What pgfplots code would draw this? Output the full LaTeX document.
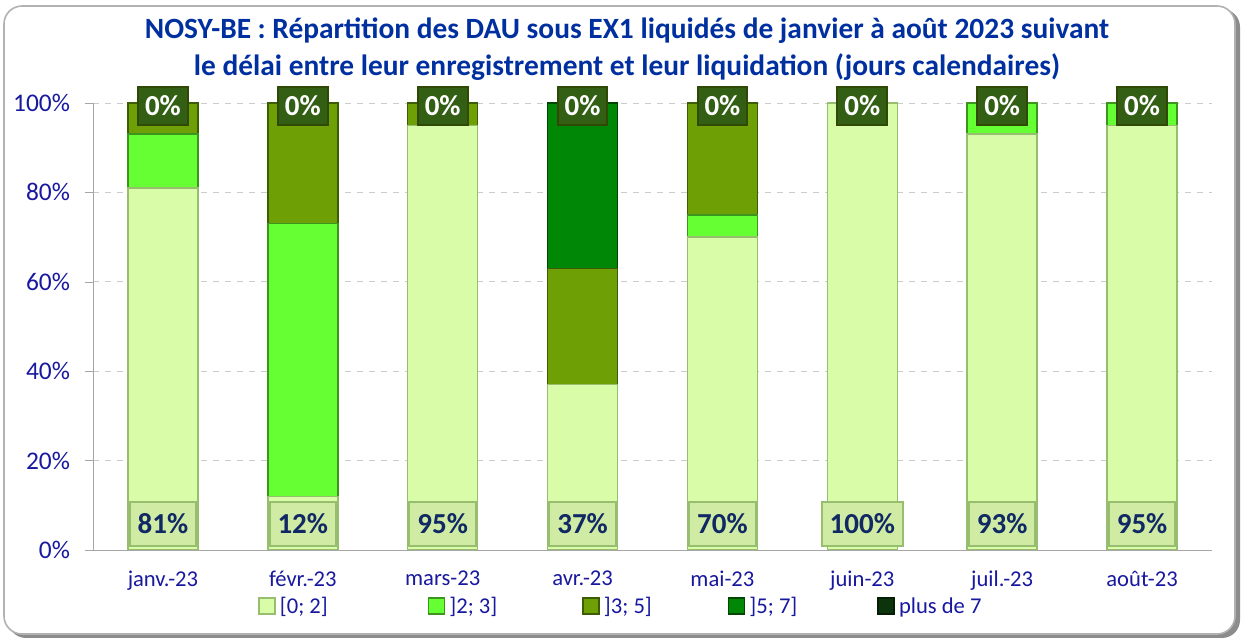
\documentclass[border=0pt]{standalone}
\usepackage{pgfplots}
\usepackage{pgfplotstable}
\pgfplotsset{compat=1.18}
\usepackage{fontspec}
\setmainfont{Carlito}

\definecolor{titleblue}{RGB}{0,48,160}
\definecolor{tickblue}{RGB}{24,24,160}
\definecolor{labnavy}{RGB}{16,40,100}
\definecolor{cA}{RGB}{216,252,168}
\definecolor{cAe}{RGB}{150,190,110}
\definecolor{cB}{RGB}{102,255,51}
\definecolor{cBe}{RGB}{60,150,30}
\definecolor{cC}{RGB}{110,160,6}
\definecolor{cCe}{RGB}{60,92,6}
\definecolor{cD}{RGB}{0,135,5}
\definecolor{cDe}{RGB}{0,70,0}
\definecolor{cE}{RGB}{12,52,12}
\definecolor{cEe}{RGB}{5,30,5}
\definecolor{topbox}{RGB}{50,95,20}
\definecolor{botbox}{RGB}{208,236,164}

\pgfplotstableread{
x a b c d e
0 81 12 7 0 0
1 12 61 27 0 0
2 95 0 5 0 0
3 37 0 26 37 0
4 70 5 25 0 0
5 100 0 0 0 0
6 93 7 0 0 0
7 95 5 0 0 0
}\data

\pgfplotstableread{
x y m
0 0 81
1 0 12
2 0 95
3 0 37
4 0 70
5 0 100
6 0 93
7 0 95
}\botlab

\pgfplotstableread{
x y m
0 100 0
1 100 0
2 100 0
3 100 0
4 100 0
5 100 0
6 100 0
7 100 0
}\toplab

\pgfplotsset{
  common/.style={
    at={(46.5pt,45.5pt)}, anchor=south west,
    scale only axis, width=559.5pt, height=223.5pt,
    xmin=-0.5, xmax=7.5, ymin=0, ymax=100,
    /pgf/number format/assume math mode=true,
  }
}

\begin{document}
\begin{tikzpicture}
\path (0,0) rectangle (621pt,320.5pt);
\fill[black!45, rounded corners=9pt] (4pt,1.5pt) rectangle (620pt,316pt);
\draw[fill=white, draw=black!30, line width=0.8pt, rounded corners=9pt] (2pt,3.5pt) rectangle (617.5pt,317.5pt);

\node[align=center, text=titleblue, font=\bfseries\fontsize{14.7}{18.5}\selectfont] at (313.5pt,296pt)
 {NOSY-BE : Répartition des DAU sous EX1 liquidés de janvier à août 2023 suivant\\
  le délai entre leur enregistrement et leur liquidation (jours calendaires)};

\begin{axis}[common,
  ybar stacked, bar width=35pt,
  axis x line*=bottom, axis y line*=left,
  axis line style={black!35},
  xtick={0,...,7}, major x tick style={draw=none},
  xticklabels={janv.-23,févr.-23,mars-23,avr.-23,mai-23,juin-23,juil.-23,août-23},
  extra x ticks={-0.5,0.5,...,7.5}, extra x tick labels={},
  extra x tick style={major tick length=3pt, tick align=outside, tick style={black!35}},
  ytick={0,20,...,100},
  yticklabel={\pgfmathprintnumber{\tick}\%},
  tick align=outside, major tick length=4pt,
  y tick style={black!35},
  ymajorgrids, grid style={dashed, black!20},
  ticklabel style={text=tickblue},
  xticklabel style={font=\fontsize{11.3}{13}\selectfont, yshift=-3pt},
  yticklabel style={font=\fontsize{12.7}{14}\selectfont, xshift=-4pt},
  legend columns=5,
  legend style={at={(0.142,-0.1275)}, anchor=west, draw=none, fill=none,
    font=\fontsize{11.3}{13}\selectfont, text=tickblue,
    /tikz/every odd column/.append style={column sep=0pt},
    /tikz/column 2/.style={column sep=48pt},
    /tikz/column 4/.style={column sep=40.5pt},
    /tikz/column 6/.style={column sep=36pt},
    /tikz/column 8/.style={column sep=38pt}},
  legend cell align=left,
]
\addplot[fill=cA, draw=cAe, line width=0.8pt,
  legend image code/.code={\path[draw=cAe,fill=cA] (0pt,-3.5pt) rectangle (8pt,4.5pt);}]
  table[x=x,y=a] {\data};
\addlegendentry{\relax[0; 2]}
\addplot[fill=cB, draw=cBe, line width=0.8pt,
  legend image code/.code={\path[draw=cBe,fill=cB] (0pt,-3.5pt) rectangle (8pt,4.5pt);}]
  table[x=x,y=b] {\data};
\addlegendentry{\relax]2; 3]}
\addplot[fill=cC, draw=cCe, line width=0.8pt,
  legend image code/.code={\path[draw=cCe,fill=cC] (0pt,-3.5pt) rectangle (8pt,4.5pt);}]
  table[x=x,y=c] {\data};
\addlegendentry{\relax]3; 5]}
\addplot[fill=cD, draw=cDe, line width=0.8pt,
  legend image code/.code={\path[draw=cDe,fill=cD] (0pt,-3.5pt) rectangle (8pt,4.5pt);}]
  table[x=x,y=d] {\data};
\addlegendentry{\relax]5; 7]}
\addplot[fill=cE, draw=cEe, line width=0.8pt,
  legend image code/.code={\path[draw=cEe,fill=cE] (0pt,-3.5pt) rectangle (8pt,4.5pt);}]
  table[x=x,y=e] {\data};
\addlegendentry{plus de 7}
\end{axis}

\begin{axis}[common, hide axis, clip=false]
\addplot[draw=none, mark=none, point meta=explicit,
  nodes near coords={\pgfmathprintnumber{\pgfplotspointmeta}\%},
  every node near coord/.append style={anchor=south, yshift=1.5pt,
    fill=botbox, draw=cAe, line width=1pt, inner xsep=4pt, minimum height=22pt,
    text=labnavy, font=\bfseries\fontsize{14.5}{16}\selectfont}]
  table[x=x,y=y,meta=m] {\botlab};
\addplot[draw=none, mark=none, point meta=explicit,
  nodes near coords={\pgfmathprintnumber{\pgfplotspointmeta}\%},
  every node near coord/.append style={anchor=center, yshift=-1.5pt,
    fill=topbox, draw=cCe!80!black, line width=1pt, inner xsep=3.5pt, minimum height=19pt,
    text=white, font=\bfseries\fontsize{14.5}{16}\selectfont}]
  table[x=x,y=y,meta=m] {\toplab};
\end{axis}
\end{tikzpicture}
\end{document}
